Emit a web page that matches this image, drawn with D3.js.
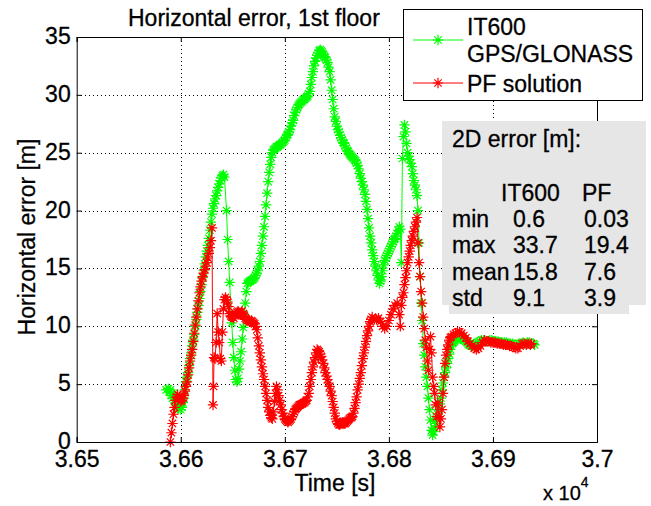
<!DOCTYPE html>
<html>
<head>
<meta charset="utf-8">
<script src="https://cdn.jsdelivr.net/npm/d3@7"></script>
<style>
  body { margin: 0; background: #fff; }
  svg { display: block; }
</style>
</head>
<body>
<svg id="chart"></svg>
<script>
// IT600 GPS/GLONASS horizontal error: [time s, error m]
const itPoints = [
  [36586, 4.5], [36588, 4.6], [36589, 4.3], [36590, 4.5], [36591, 4.0], [36592, 3.8], [36593, 4.2], [36594, 3.6],
  [36595, 3.4], [36596, 3.2], [36597, 3.0], [36598, 2.9], [36599, 3.1], [36600, 2.8], [36601, 3.0], [36602, 3.4],
  [36603, 3.8], [36604, 4.5], [36605, 5.2], [36606, 5.6], [36607, 6.0], [36608, 6.6], [36609, 7.2], [36610, 7.7],
  [36611, 8.3], [36612, 8.8], [36613, 9.3], [36614, 10.0], [36615, 10.6], [36616, 11.2], [36617, 11.8], [36618, 12.4],
  [36619, 13.0], [36620, 13.6], [36621, 14.2], [36622, 14.8], [36623, 15.4], [36624, 16.0], [36625, 16.5], [36626, 17.0],
  [36627, 17.6], [36628, 18.3], [36629, 19.0], [36630, 19.7], [36631, 20.2], [36632, 20.6], [36633, 21.0], [36634, 21.3],
  [36635, 21.7], [36636, 22.0], [36637, 22.3], [36638, 22.6], [36639, 22.8], [36640, 23.0], [36641, 23.1], [36642, 22.9],
  [36644, 20.0], [36645, 17.5], [36646, 15.6], [36647, 13.8], [36649, 10.3], [36650, 8.6], [36651, 7.3], [36652, 6.2],
  [36653, 5.4], [36654, 5.2], [36655, 5.5], [36656, 6.3], [36657, 7.0], [36658, 7.8], [36659, 8.9], [36660, 9.9],
  [36661, 11.0], [36662, 12.0], [36663, 13.0], [36664, 13.7], [36665, 13.8], [36666, 13.9], [36667, 13.9], [36668, 14.0],
  [36669, 14.0], [36670, 14.1], [36671, 14.2], [36672, 14.4], [36673, 14.6], [36674, 14.8], [36675, 15.2], [36676, 15.6],
  [36677, 16.3], [36678, 17.0], [36679, 17.8], [36680, 18.6], [36681, 19.5], [36682, 20.5], [36683, 21.5], [36684, 22.5],
  [36685, 23.3], [36686, 24.0], [36687, 24.6], [36688, 25.0], [36689, 25.2], [36690, 25.3], [36691, 25.4], [36692, 25.5],
  [36693, 25.5], [36694, 25.6], [36695, 25.7], [36696, 25.7], [36697, 25.8], [36698, 25.9], [36699, 26.0], [36700, 26.1],
  [36701, 26.3], [36702, 26.5], [36703, 26.6], [36704, 26.8], [36705, 27.0], [36706, 27.3], [36707, 27.6], [36708, 27.8],
  [36709, 28.2], [36710, 28.5], [36711, 28.7], [36712, 28.9], [36713, 29.1], [36714, 29.2], [36715, 29.3], [36716, 29.4],
  [36717, 29.5], [36718, 29.6], [36719, 29.6], [36720, 29.7], [36721, 29.8], [36722, 29.9], [36723, 30.1], [36724, 30.3],
  [36725, 30.9], [36726, 31.5], [36727, 32.0], [36728, 32.5], [36729, 32.9], [36730, 33.2], [36731, 33.4], [36732, 33.6],
  [36733, 33.8], [36734, 33.9], [36735, 33.8], [36736, 33.7], [36737, 33.5], [36738, 33.3], [36739, 33.2], [36740, 33.0],
  [36741, 32.8], [36742, 32.4], [36743, 32.0], [36744, 31.3], [36745, 30.4], [36746, 29.6], [36747, 28.8], [36748, 28.1],
  [36749, 27.7], [36750, 27.3], [36751, 27.0], [36752, 26.8], [36753, 26.5], [36754, 26.3], [36755, 26.1], [36756, 25.9],
  [36757, 25.8], [36758, 25.6], [36759, 25.4], [36760, 25.2], [36761, 25.1], [36762, 24.9], [36763, 24.8], [36764, 24.7],
  [36765, 24.6], [36766, 24.5], [36767, 24.4], [36768, 24.3], [36769, 24.1], [36770, 23.9], [36771, 23.6], [36772, 23.2],
  [36773, 22.8], [36774, 22.5], [36775, 22.2], [36776, 21.8], [36777, 21.4], [36778, 20.8], [36779, 20.1], [36780, 19.3],
  [36781, 18.5], [36782, 17.8], [36783, 17.2], [36784, 16.6], [36785, 16.1], [36786, 15.6], [36787, 15.2], [36788, 14.8],
  [36789, 14.4], [36790, 14.0], [36791, 13.7], [36792, 13.9], [36793, 14.3], [36794, 14.8], [36795, 15.3], [36796, 15.7],
  [36797, 15.9], [36798, 16.1], [36799, 16.3], [36800, 16.5], [36801, 16.7], [36802, 16.9], [36803, 17.1], [36804, 17.3],
  [36805, 17.5], [36806, 17.6], [36807, 17.8], [36808, 18.0], [36809, 18.3], [36810, 18.6], [36811, 18.4], [36812, 15.5],
  [36813, 24.5], [36814, 26.4], [36815, 27.4], [36816, 26.8], [36817, 25.8], [36818, 25.0], [36819, 24.7], [36820, 24.4],
  [36821, 24.1], [36822, 23.8], [36823, 23.2], [36824, 22.6], [36825, 22.2], [36826, 21.8], [36827, 21.3], [36828, 20.0],
  [36829, 17.2], [36830, 14.3], [36831, 12.0], [36832, 10.5], [36833, 8.5], [36834, 7.5], [36835, 6.5], [36836, 5.6],
  [36837, 4.8], [36838, 3.8], [36839, 2.8], [36840, 1.9], [36841, 1.0], [36842, 0.6], [36843, 0.9], [36844, 1.2],
  [36845, 1.6], [36846, 2.0], [36847, 2.4], [36848, 2.8], [36849, 3.3], [36850, 3.8], [36851, 4.5], [36852, 5.1],
  [36853, 5.6], [36854, 6.0], [36855, 6.4], [36856, 6.8], [36857, 7.2], [36858, 7.6], [36859, 8.0], [36860, 8.3],
  [36861, 8.5], [36862, 8.6], [36863, 8.7], [36864, 8.8], [36865, 9.0], [36866, 9.2], [36867, 9.2], [36868, 9.0],
  [36869, 8.9], [36870, 9.0], [36871, 9.0], [36872, 8.9], [36873, 8.8], [36874, 8.7], [36875, 8.6], [36876, 8.5],
  [36877, 8.4], [36878, 8.4], [36879, 8.3], [36880, 8.3], [36881, 8.4], [36883, 8.5], [36885, 8.6], [36887, 8.7],
  [36889, 8.8], [36891, 8.8], [36893, 8.7], [36895, 8.7], [36897, 8.8], [36899, 8.8], [36901, 8.7], [36903, 8.7],
  [36905, 8.7], [36907, 8.6], [36909, 8.6], [36911, 8.6], [36913, 8.6], [36915, 8.5], [36917, 8.5], [36919, 8.5],
  [36921, 8.4], [36923, 8.4], [36925, 8.5], [36927, 8.5], [36929, 8.6], [36931, 8.5], [36933, 8.6], [36935, 8.6],
  [36937, 8.5], [36939, 8.5], [36940, 8.4]
]

// PF solution horizontal error: [time s, error m]
const pfPoints = [
  [36590, 0.0], [36591, 0.8], [36592, 1.6], [36593, 2.4], [36594, 3.0], [36595, 3.6], [36596, 3.9], [36597, 4.1],
  [36598, 3.7], [36599, 3.9], [36600, 3.5], [36601, 3.6], [36602, 3.8], [36603, 4.0], [36604, 4.4], [36605, 4.8],
  [36606, 5.2], [36607, 5.8], [36608, 6.4], [36609, 7.0], [36610, 7.5], [36611, 8.0], [36612, 8.7], [36613, 9.4],
  [36614, 10.1], [36615, 10.8], [36616, 11.5], [36617, 12.2], [36618, 12.9], [36619, 13.4], [36620, 13.9], [36621, 14.3],
  [36622, 14.6], [36623, 14.9], [36624, 15.2], [36625, 15.5], [36626, 15.9], [36627, 16.3], [36628, 16.8], [36629, 17.4],
  [36630, 18.5], [36631, 3.2], [36631.5, 4.8], [36632, 7.3], [36633, 7.2], [36634, 8.6], [36635, 11.1], [36636, 9.5],
  [36637, 8.6], [36638, 7.2], [36639, 7.0], [36640, 9.5], [36641, 11.5], [36642, 12.3], [36643, 12.5], [36644, 12.3],
  [36645, 12.1], [36646, 11.7], [36647, 11.1], [36648, 10.9], [36649, 10.8], [36650, 10.8], [36651, 10.7], [36652, 10.9],
  [36653, 11.0], [36654, 11.2], [36655, 11.3], [36656, 11.1], [36657, 11.0], [36658, 11.2], [36659, 11.3], [36660, 11.1],
  [36661, 10.9], [36662, 10.7], [36663, 10.6], [36664, 10.5], [36665, 10.5], [36666, 10.4], [36667, 10.4], [36668, 10.5],
  [36669, 10.4], [36670, 10.3], [36671, 10.2], [36672, 10.0], [36673, 9.7], [36674, 9.0], [36675, 8.3], [36676, 7.7],
  [36677, 7.1], [36678, 6.5], [36679, 5.9], [36680, 5.4], [36681, 4.8], [36682, 4.2], [36683, 3.6], [36684, 3.0],
  [36685, 2.6], [36686, 2.3], [36687, 2.1], [36688, 2.0], [36689, 2.6], [36690, 3.5], [36691, 4.2], [36692, 4.8],
  [36693, 4.5], [36694, 4.0], [36695, 3.6], [36696, 3.2], [36697, 2.8], [36698, 2.5], [36699, 2.2], [36700, 2.0],
  [36701, 1.9], [36702, 1.8], [36703, 1.7], [36704, 1.8], [36705, 1.9], [36706, 2.0], [36707, 2.2], [36708, 2.4],
  [36709, 2.6], [36710, 2.8], [36711, 2.9], [36712, 3.0], [36713, 3.1], [36714, 3.2], [36715, 3.2], [36716, 3.3],
  [36717, 3.3], [36718, 3.4], [36719, 3.4], [36720, 3.5], [36721, 3.6], [36722, 3.9], [36723, 4.2], [36724, 4.8],
  [36725, 5.4], [36726, 6.0], [36727, 6.5], [36728, 6.9], [36729, 7.3], [36730, 7.7], [36731, 8.0], [36732, 7.9],
  [36733, 7.8], [36734, 7.6], [36735, 7.4], [36736, 7.1], [36737, 6.8], [36738, 6.4], [36739, 6.0], [36740, 5.7],
  [36741, 5.4], [36742, 5.1], [36743, 4.8], [36744, 4.4], [36745, 4.0], [36746, 3.5], [36747, 3.0], [36748, 2.5],
  [36749, 2.0], [36750, 1.8], [36751, 1.6], [36752, 1.5], [36753, 1.5], [36754, 1.6], [36755, 1.7], [36756, 1.7],
  [36757, 1.6], [36758, 1.6], [36759, 1.7], [36760, 1.8], [36761, 1.9], [36762, 2.0], [36763, 2.1], [36764, 2.1],
  [36765, 2.2], [36766, 2.5], [36767, 2.9], [36768, 3.4], [36769, 3.9], [36770, 4.5], [36771, 5.0], [36772, 5.5],
  [36773, 6.0], [36774, 6.6], [36775, 7.2], [36776, 7.7], [36777, 8.2], [36778, 8.7], [36779, 9.2], [36780, 9.6],
  [36781, 10.0], [36782, 10.4], [36783, 10.6], [36784, 10.8], [36786, 10.6], [36788, 10.6], [36790, 10.7], [36792, 10.4],
  [36794, 10.0], [36796, 9.8], [36798, 10.0], [36800, 10.5], [36802, 11.0], [36804, 11.5], [36806, 11.8], [36808, 12.0],
  [36810, 11.0], [36811, 10.0], [36812, 11.8], [36813, 12.5], [36814, 12.9], [36815, 13.6], [36816, 14.2], [36817, 14.8],
  [36818, 15.5], [36819, 16.0], [36820, 16.5], [36821, 17.0], [36822, 17.4], [36823, 17.8], [36824, 18.2], [36825, 18.6],
  [36826, 19.0], [36827, 19.4], [36828, 17.2], [36829, 15.5], [36830, 14.3], [36831, 13.0], [36832, 12.0], [36833, 10.8],
  [36834, 9.8], [36835, 8.8], [36836, 8.2], [36837, 7.0], [36838, 6.2], [36839, 8.0], [36840, 9.1], [36841, 7.7],
  [36842, 5.6], [36843, 4.8], [36844, 4.2], [36845, 3.2], [36846, 2.2], [36847, 3.4], [36848, 2.2], [36849, 1.3],
  [36850, 2.0], [36851, 2.8], [36852, 4.2], [36853, 5.6], [36854, 6.8], [36855, 7.5], [36856, 8.0], [36857, 8.4],
  [36858, 8.8], [36859, 9.0], [36860, 9.1], [36862, 9.3], [36864, 9.4], [36866, 9.5], [36868, 9.5], [36870, 9.4],
  [36872, 9.2], [36874, 9.0], [36876, 8.7], [36878, 8.5], [36880, 8.3], [36882, 8.1], [36884, 8.0], [36886, 8.1],
  [36888, 8.3], [36890, 8.6], [36892, 8.8], [36894, 8.7], [36896, 8.7], [36898, 8.6], [36900, 8.6], [36902, 8.6],
  [36904, 8.5], [36906, 8.5], [36908, 8.5], [36910, 8.4], [36912, 8.4], [36914, 8.4], [36916, 8.3], [36918, 8.3],
  [36920, 8.2], [36922, 8.1], [36924, 8.1], [36926, 8.3], [36928, 8.5], [36930, 8.5], [36932, 8.4], [36934, 8.5],
  [36936, 8.4], [36937, 8.5]
]

const xTicks = [36500, 36600, 36700, 36800, 36900, 37000]
const xTickLabels = ['3.65', '3.66', '3.67', '3.68', '3.69', '3.7']
const yTicks = [0, 5, 10, 15, 20, 25, 30, 35]

const legendLabels = [['IT600', 'GPS/GLONASS'], ['PF solution']]
const statHeader = ['IT600', 'PF']
const statRows = ['min', 'max', 'mean', 'std']
const itStats = ['0.6', '33.7', '15.8', '9.1']
const pfStats = ['0.03', '19.4', '7.6', '3.9']

const width = 651
const height = 506
const plotLeft = 76.7
const plotRight = 597
const plotTop = 37
const plotBottom = 442
const font = '"Liberation Sans", Arial, Helvetica, sans-serif'
const green = '#00ff00'
const red = '#ff0000'

const svg = d3.select('#chart')
  .attr('width', width)
  .attr('height', height)
  .attr('viewBox', `0 0 ${width} ${height}`)

svg.append('rect')
  .attr('width', width)
  .attr('height', height)
  .attr('fill', '#fff')

const x = d3.scaleLinear().domain([36500, 37000]).range([plotLeft, plotRight])
const y = d3.scaleLinear().domain([0, 35]).range([plotBottom, plotTop])

// text helper: slightly heavier strokes, like the exported figure
function styleText(sel, size) {
  sel.attr('font-size', size + 'px')
    .attr('font-family', font)
    .attr('fill', '#000')
    .attr('stroke', '#000')
    .attr('stroke-width', 0.3)
}

// dotted grid
svg.append('g')
  .attr('transform', `translate(0,${plotBottom})`)
  .call(d3.axisBottom(x).tickValues(xTicks.slice(1, -1)).tickSize(-(plotBottom - plotTop)).tickFormat(''))
  .call(g => g.select('.domain').remove())
  .selectAll('line')
  .attr('stroke', '#000')
  .attr('stroke-dasharray', '1,3')
  .attr('shape-rendering', 'crispEdges')

svg.append('g')
  .attr('transform', `translate(${plotLeft},0)`)
  .call(d3.axisLeft(y).tickValues(yTicks.slice(1, -1)).tickSize(-(plotRight - plotLeft)).tickFormat(''))
  .call(g => g.select('.domain').remove())
  .selectAll('line')
  .attr('stroke', '#000')
  .attr('stroke-dasharray', '1,3')
  .attr('shape-rendering', 'crispEdges')

// asterisk marker path around a point
function star(px, py) {
  const r = 5.2
  const d = 3.7
  return `M${px - r},${py}H${px + r}M${px},${py - r}V${py + r}` +
    `M${px - d},${py - d}L${px + d},${py + d}M${px - d},${py + d}L${px + d},${py - d}`
}

function drawSeries(points, color) {
  const pts = points.map(p => [x(p[0]), y(p[1])])
  svg.append('path')
    .attr('d', d3.line()(pts))
    .attr('fill', 'none')
    .attr('stroke', color)
    .attr('stroke-width', 1)
  svg.append('path')
    .attr('d', pts.map(p => star(p[0], p[1])).join(''))
    .attr('fill', 'none')
    .attr('stroke', color)
    .attr('stroke-width', 1.2)
}

drawSeries(itPoints, green)
drawSeries(pfPoints, red)

// axes with inward ticks
const xAxis = svg.append('g')
  .attr('transform', `translate(0,${plotBottom})`)
  .call(d3.axisBottom(x).tickValues(xTicks).tickSize(-5).tickPadding(9)
    .tickFormat((d, i) => xTickLabels[i]))
styleText(xAxis.selectAll('text'), 23)

const yAxis = svg.append('g')
  .attr('transform', `translate(${plotLeft},0)`)
  .call(d3.axisLeft(y).tickValues(yTicks).tickSize(-5).tickPadding(6))
styleText(yAxis.selectAll('text').attr('dy', '0.28em'), 23)

svg.append('g')
  .attr('transform', `translate(0,${plotTop})`)
  .call(d3.axisTop(x).tickValues(xTicks).tickSize(-5).tickFormat(''))

svg.append('g')
  .attr('transform', `translate(${plotRight},0)`)
  .call(d3.axisRight(y).tickValues(yTicks).tickSize(-5).tickFormat(''))

svg.selectAll('.domain').attr('stroke', '#000').attr('stroke-width', 1)
svg.selectAll('.tick line').filter(function () { return !this.getAttribute('stroke-dasharray') })
  .attr('stroke', '#000')

// title and labels
svg.append('text')
  .attr('x', 128)
  .attr('y', 26)
  .call(styleText, 23)
  .text('Horizontal error, 1st floor')

svg.append('text')
  .attr('transform', 'translate(35,237) rotate(-90)')
  .attr('text-anchor', 'middle')
  .call(styleText, 23)
  .text('Horizontal error [m]')

svg.append('text')
  .attr('x', 335)
  .attr('y', 491)
  .attr('text-anchor', 'middle')
  .call(styleText, 23)
  .text('Time [s]')

const mult = svg.append('text')
  .attr('x', 543)
  .attr('y', 500)
  .call(styleText, 20)
mult.append('tspan').text('x 10')
mult.append('tspan').attr('dy', -13).attr('font-size', '14px').text('4')

// legend
svg.append('rect')
  .attr('x', 403.5)
  .attr('y', 9.5)
  .attr('width', 239)
  .attr('height', 91)
  .attr('fill', '#fff')
  .attr('stroke', '#000')

const legendY = [40, 83]
const legendColors = [green, red]
legendLabels.forEach((lines, i) => {
  svg.append('line')
    .attr('x1', 413).attr('x2', 463)
    .attr('y1', legendY[i]).attr('y2', legendY[i])
    .attr('stroke', legendColors[i])
  svg.append('path')
    .attr('d', star(438, legendY[i]))
    .attr('stroke', legendColors[i])
    .attr('stroke-width', 1.2)
    .attr('fill', 'none')
  lines.forEach((s, j) => {
    svg.append('text')
      .attr('x', 467)
      .attr('y', (i === 0 ? 35 : 92) + j * 27)
      .call(styleText, 23)
      .text(s)
  })
})

// statistics box
svg.append('rect')
  .attr('x', 442).attr('y', 121)
  .attr('width', 204).attr('height', 184)
  .attr('fill', '#e6e6e6')
svg.append('rect')
  .attr('x', 449).attr('y', 305)
  .attr('width', 180).attr('height', 9)
  .attr('fill', '#e6e6e6')

const stat = svg.append('g')
stat.append('text').attr('x', 452).attr('y', 147).call(styleText, 23).text('2D error [m]:')
stat.append('text').attr('x', 501).attr('y', 201).call(styleText, 23).text(statHeader[0])
stat.append('text').attr('x', 582).attr('y', 201).call(styleText, 23).text(statHeader[1])
statRows.forEach((r, i) => {
  const by = 227 + i * 26.3
  stat.append('text').attr('x', 452).attr('y', by).call(styleText, 23).text(r)
  stat.append('text').attr('x', 513).attr('y', by).call(styleText, 23).text(itStats[i])
  stat.append('text').attr('x', 584).attr('y', by).call(styleText, 23).text(pfStats[i])
})
</script>
</body>
</html>
